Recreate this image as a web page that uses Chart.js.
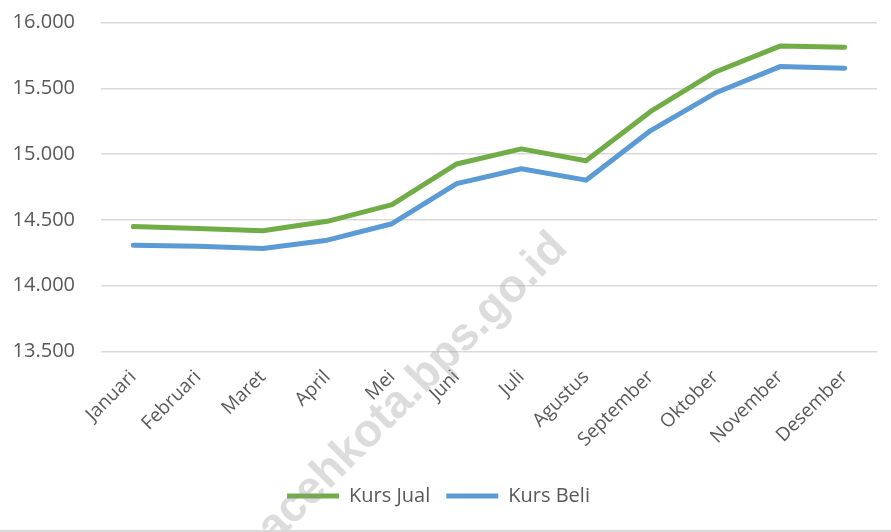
<!DOCTYPE html>
<html>
<head>
<meta charset="utf-8">
<script src="https://cdn.jsdelivr.net/npm/chart.js@4.4.0/dist/chart.umd.min.js"></script>
<style>
  html, body { margin: 0; padding: 0; background: #fff; }
  #wrap { width: 891px; height: 532px; position: relative; }
  #wrap:after { content: ''; position: absolute; left: 0; right: 0; top: 530px; height: 2px; background: #d9d9d9; }
</style>
</head>
<body>
<div id="wrap"><canvas id="kursChart" width="891" height="532"></canvas></div>
<script>
const canvas = document.getElementById('kursChart');

const bulan = ["Januari", "Februari", "Maret", "April", "Mei", "Juni", "Juli", "Agustus", "September", "Oktober", "November", "Desember"];
const kursJual = [14450, 14435, 14417, 14489, 14616, 14925, 15040, 14950, 15324, 15624, 15821, 15811];
const kursBeli = [14308, 14300, 14282, 14346, 14471, 14776, 14889, 14802, 15179, 15464, 15665, 15653];

const green = '#70AD47';
const blue = '#5B9BD5';
const textColor = '#595959';

// faint diagonal site watermark, drawn under the legend
const watermark = {
  id: 'watermark',
  beforeDatasetsDraw(chart) {
    const ctx = chart.ctx;
    ctx.save();
    ctx.translate(569, 250);
    ctx.rotate(-Math.PI / 4);
    ctx.font = 'bold 46px "Liberation Sans", Arial, sans-serif';
    ctx.fillStyle = 'rgba(150,150,150,0.33)';
    ctx.textAlign = 'right';
    ctx.textBaseline = 'alphabetic';
    ctx.fillText('bandaacehkota.bps.go.id', 0, 0);
    ctx.restore();
  }
};

const data = {
  labels: bulan,
  datasets: [
    {
      label: 'Kurs Jual',
      data: kursJual,
      borderColor: green,
      backgroundColor: green,
      borderWidth: 5,
      borderCapStyle: 'round',
      borderJoinStyle: 'round',
      pointRadius: 0,
      tension: 0
    },
    {
      label: 'Kurs Beli',
      data: kursBeli,
      borderColor: blue,
      backgroundColor: blue,
      borderWidth: 5,
      borderCapStyle: 'round',
      borderJoinStyle: 'round',
      pointRadius: 0,
      tension: 0
    }
  ]
};

const config = {
  type: 'line',
  data: data,
  options: {
    responsive: false,
    animation: false,
    layout: {
      padding: { top: 22.5, right: 14, bottom: 16, left: 0 }
    },
    scales: {
      y: {
        min: 13500,
        max: 16000,
        afterFit(scale) {
          scale.width = 101;
          scale.paddingTop = 0;
          scale.paddingBottom = 0;
        },
        ticks: {
          stepSize: 500,
          padding: 26,
          color: textColor,
          font: { family: '"Open Sans", sans-serif', size: 20 },
          callback: (v) => v.toLocaleString('de-DE', { minimumFractionDigits: 3 })
            .replace(/,000$/, '')
        },
        grid: { color: '#d9d9d9', lineWidth: 1.5, drawTicks: false },
        border: { display: false }
      },
      x: {
        offset: true,
        afterFit(scale) { scale.height = 118.5; },
        ticks: {
          minRotation: 45,
          maxRotation: 45,
          autoSkip: false,
          padding: 14.5,
          color: textColor,
          font: { family: '"Open Sans", sans-serif', size: 19 }
        },
        grid: { display: false, drawTicks: false },
        border: { display: false }
      }
    },
    plugins: {
      legend: {
        position: 'bottom',
        labels: {
          usePointStyle: true,
          pointStyle: 'line',
          pointStyleWidth: 52,
          boxHeight: 20,
          padding: 16,
          color: textColor,
          font: { family: '"Open Sans", sans-serif', size: 20 }
        }
      },
      tooltip: { enabled: false }
    }
  },
  plugins: [watermark]
};

const kursChart = new Chart(canvas, config);
</script>
</body>
</html>
